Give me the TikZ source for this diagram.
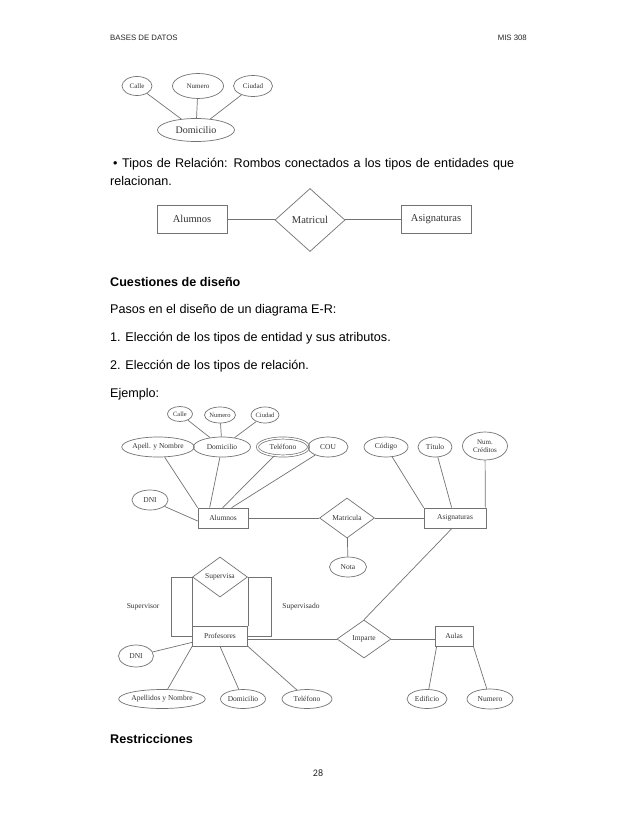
\documentclass[tikz,border=0pt]{standalone}
\usepackage{fontspec}
\setmainfont{Liberation Sans}
\newfontfamily\dgfont{Liberation Serif}
\newfontfamily\pgfontnum{Carlito}
\usetikzlibrary{shapes.geometric,calc}
\begin{document}
\begin{tikzpicture}[x=1pt,y=-1pt,
  lc/.style={draw=black!55, line width=0.7pt},
  body/.style={anchor=base west, inner sep=0pt, font=\fontsize{12.6}{15}\selectfont},
  att/.style={ellipse, lc, inner sep=0pt, text=black!80, font=\dgfont\fontsize{7.5}{8}\selectfont},
  ent/.style={rectangle, lc, inner sep=0pt, text=black!80, font=\dgfont\fontsize{7.5}{8}\selectfont},
  rel/.style={diamond, lc, inner sep=0pt, text=black!80, font=\dgfont\fontsize{7.5}{8}\selectfont},
  big/.style={font=\dgfont\fontsize{10.5}{11}\selectfont},
  tiny/.style={font=\dgfont\fontsize{6.5}{7}\selectfont},
  conn/.style={lc}
]
\useasboundingbox (0,0) rectangle (638,826);
\fill[white] (0,0) rectangle (638,826);

% header
\node[anchor=base west, inner sep=0pt, font=\fontsize{7.8}{9}\selectfont, text=black!85] (hl) at (110,41) {BASES DE DATOS};
\node[anchor=base east, inner sep=0pt, font=\fontsize{7.8}{9}\selectfont, text=black!85] (hr) at (527,41) {MIS 308};

% top diagram
\node[att, minimum width=30, minimum height=19, font=\dgfont\fontsize{7}{8}\selectfont] (calle) at (137,86) {Calle};
\node[att, minimum width=51, minimum height=25, font=\dgfont\fontsize{7}{8}\selectfont] (numero) at (198,86) {Numero};
\node[att, minimum width=39, minimum height=21, font=\dgfont\fontsize{7}{8}\selectfont] (ciudad) at (253,86) {Ciudad};
\node[att, minimum width=77, minimum height=23, font=\dgfont\fontsize{10}{11}\selectfont] (domi) at (196,130) {Domicilio};
\draw[conn] (calle) -- (domi);
\draw[conn] (numero) -- (domi);
\draw[conn] (ciudad) -- (domi);

% text
\node[body] (t1) at (110,168) {\makebox[12pt][l]{\hspace{3pt}•}\makebox[392pt][s]{Tipos de Relación: Rombos conectados a los tipos de entidades que}};
\node[body] (t2) at (110,186) {relacionan.};

% diagram 2
\node[ent, big, minimum width=70, minimum height=28] (alu1) at (192,219) {Alumnos};
\node[rel, big, minimum width=70, minimum height=63] (mat1) at (310,220) {Matricul};
\node[ent, big, minimum width=70, minimum height=28] (asi1) at (436,219) {Asignaturas};
\draw[conn] (alu1) -- (alu1 -| mat1.west);
\draw[conn] (mat1.east |- asi1) -- (asi1);

% body text
\node[body, font=\bfseries\fontsize{12.6}{15}\selectfont] (cues) at (110,286) {Cuestiones de diseño};
\node[body] (pasos) at (110,313) {Pasos en el diseño de un diagrama E-R:};
\node[body] (p1) at (110,341) {1. Elección de los tipos de entidad y sus atributos.};
\node[body] (p2) at (110,369) {2. Elección de los tipos de relación.};
\node[body] (ej) at (110,397) {Ejemplo:};

% Ejemplo diagram
\node[att, tiny, minimum width=25, minimum height=15] (ecalle) at (180,414) {Calle};
\node[att, tiny, minimum width=31, minimum height=16] (enum) at (220,415) {Numero};
\node[att, tiny, minimum width=28, minimum height=16] (eciu) at (265,415) {Ciudad};
\node[att, minimum width=64, minimum height=20] (eapell) at (158,447) {Apell. y Nombre};
\node[att, minimum width=57, minimum height=20] (edomi) at (222,447) {Domicilio};
\node[att, minimum width=51, minimum height=18, double=white, double distance=1.4pt] (etel) at (283,447) {Teléfono};
\node[att, minimum width=40, minimum height=20] (ecou) at (328,447) {COU};
\node[att, minimum width=44, minimum height=20] (ecod) at (386,447) {Código};
\node[att, minimum width=34, minimum height=20] (etit) at (435,447) {Título};
\node[att, minimum width=45, minimum height=28, align=center, font=\dgfont\fontsize{7}{7.5}\selectfont] (ecred) at (485,446) {Num.\\Créditos};
\node[att, minimum width=36, minimum height=20] (ednia) at (150,500) {DNI};
\node[ent, minimum width=50, minimum height=20] (ealu) at (223,518) {Alumnos};
\node[rel, minimum width=55, minimum height=40] (emat) at (347,518) {Matricula};
\node[ent, minimum width=62, minimum height=20] (easi) at (455,518) {Asignaturas};
\node[att, minimum width=37, minimum height=20] (enota) at (348,567) {Nota};

\draw[conn] (ecalle) -- (edomi);
\draw[conn] (enum) -- (edomi);
\draw[conn] (eciu) -- (edomi);
\draw[conn] (eapell) -- (ealu.north west);
\draw[conn] (edomi) -- ($(ealu.north west)+(12,0)$);
\draw[conn] (etel) -- ($(ealu.north west)+(25,0)$);
\draw[conn] (ecou) -- ($(ealu.north west)+(34,0)$);
\draw[conn] (ednia) -- ($(ealu.west)+(0,3)$);
\draw[conn] (ealu) -- (emat);
\draw[conn] (emat) -- (easi);
\draw[conn] (emat) -- (enota);
\draw[conn] (ecod) -- (easi.north west);
\draw[conn] (etit) -- ($(easi.north west)+(28,0)$);
\draw[conn] (ecred) -- ($(easi.north east)+(-1,0)$);

% Profesores part
\node[rel, minimum width=55, minimum height=40] (esup) at (220,577) {Supervisa};
\node[ent, minimum width=55, minimum height=20] (eprof) at (220,636) {Profesores};
\node[rel, minimum width=54, minimum height=38] (eimp) at (364,639) {Imparte};
\node[ent, minimum width=38, minimum height=20] (eaul) at (454,636) {Aulas};
\node[inner sep=0pt, text=black!80, font=\dgfont\fontsize{7.5}{8}\selectfont] (lsor) at (143,607) {Supervisor};
\node[inner sep=0pt, text=black!80, font=\dgfont\fontsize{7.5}{8}\selectfont] (lsdo) at (301,607) {Supervisado};
\coordinate (l1) at (171,577);
\coordinate (l2) at (171,636);
\coordinate (r1) at (271,577);
\coordinate (r2) at (271,636);
\draw[conn] (esup.west) -- (eprof.north west);
\draw[conn] (esup.east) -- (eprof.north east);
\draw[conn] (esup.west) -- (l1) -- (l2) -- (eprof.west);
\draw[conn] (esup.east) -- (r1) -- (r2) -- (eprof.east);
\draw[conn] (eimp.west) -- (eimp.west -| eprof.east);
\draw[conn] (eimp.east) -- (eimp.east -| eaul.west);
\draw[conn] (eimp.north) -- ($(easi.south)+(-3,0)$);

\node[att, minimum width=35, minimum height=22] (ednib) at (136,656) {DNI};
\node[att, minimum width=81, minimum height=19] (eapel2) at (162,699) {Apellidos y Nombre};
\node[att, minimum width=45, minimum height=19] (edom2) at (243,699) {Domicilio};
\node[att, minimum width=50, minimum height=19] (etel2) at (307,699) {Teléfono};
\node[att, minimum width=40, minimum height=19] (eedi) at (427,699) {Edificio};
\node[att, minimum width=46, minimum height=20] (enum2) at (490,699) {Numero};
\draw[conn] (ednib) -- ($(eprof.south west)+(0,-4)$);
\draw[conn] (eapel2) -- (eprof.south west);
\draw[conn] (edom2) -- (eprof.south);
\draw[conn] (etel2) -- (eprof.south east);
\draw[conn] (eedi) -- ($(eaul.south west)+(2,0)$);
\draw[conn] (enum2) -- (eaul.south east);

% bottom
\node[body, font=\bfseries\fontsize{12.6}{15}\selectfont] (restr) at (110,743) {Restricciones};
\node[inner sep=0pt, font=\pgfontnum\fontsize{10}{12}\selectfont, text=black!85] (pnum) at (318,773) {28};
\end{tikzpicture}
\end{document}
